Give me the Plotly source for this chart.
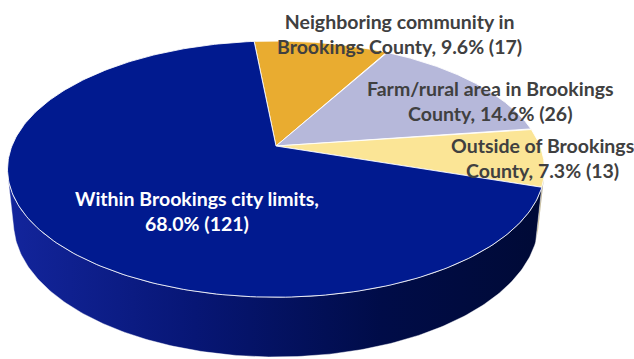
import numpy as np
import plotly.graph_objects as go

# Survey responses: where respondents live
categories = [
    "Neighboring community in Brookings County",
    "Farm/rural area in Brookings County",
    "Outside of Brookings County",
    "Within Brookings city limits",
]
counts = [17, 26, 13, 121]
percents = [9.6, 14.6, 7.3, 68.0]

# ---- styling -------------------------------------------------------------
top_colors = ["#E9AC30", "#B6B8DA", "#FBE596", "#011A8F"]
side_scales = [
    [[0, "#B07E1C"], [1, "#6E4E10"]],
    [[0, "#8A8CB0"], [1, "#55576F"]],
    [[0, "#BFA862"], [1, "#7A6A38"]],
    [[0, "#13259C"], [0.35, "#071675"], [0.7, "#000C48"], [1, "#000A36"]],
]
label_colors = ["#404040", "#404040", "#404040", "#FFFFFF"]
wrap_after = [3, 4, 3, 4]          # words on the first label line
label_pos = [(399, 34), (490, 101), (542, 158), (197, 211)]  # pixel centres
FONT = "Lato"
FONT_SIZE = 19.5

W, H = 634, 359
ELEV = np.radians(28.0)   # camera elevation
DIST = 4.9                # camera distance (pie radius = 1)
THICK = 0.23              # pie thickness
START = -5.6              # angle of first slice, clockwise from the far side
SCALE = 1294.0            # pixels per projected unit
CX, CY = 276.0, 146.0     # pixel position of the pie centre


def project(theta_deg, r=1.0, z=0.0):
    t = np.radians(theta_deg)
    X, Y, Z = r * np.sin(t), r * np.cos(t), z
    depth = DIST + Y * np.cos(ELEV) - Z * np.sin(ELEV)
    sx = X / depth
    sy = (Y * np.sin(ELEV) + Z * np.cos(ELEV)) / depth
    return sx, sy


# slice angles from the counts
total = sum(counts)
sweeps = [360.0 * c / total for c in counts]
bounds = np.concatenate([[START], START + np.cumsum(sweeps)])

# range of the rim that faces the camera
lim = np.degrees(np.arccos(-1.0 / (DIST * np.cos(ELEV))))
vis_lo, vis_hi = lim, 360.0 - lim

fig = go.Figure()

# side walls (front rim)
for i in range(len(counts)):
    a, b = bounds[i], bounds[i + 1]
    for shift in (0.0, 360.0, -360.0):
        lo = max(a + shift, vis_lo)
        hi = min(b + shift, vis_hi)
        if hi <= lo:
            continue
        th = np.linspace(lo, hi, 200)
        tx, ty = project(th, 1.0, 0.0)
        bx, by = project(th[::-1], 1.0, -THICK)
        fig.add_trace(go.Scatter(
            x=np.concatenate([tx, bx, tx[:1]]),
            y=np.concatenate([ty, by, ty[:1]]),
            mode="lines", fill="toself",
            fillgradient=dict(type="horizontal", colorscale=side_scales[i]),
            line=dict(color="rgba(255,255,255,0.55)", width=0.8),
            hoverinfo="skip", showlegend=False,
        ))

# top faces
for i in range(len(counts)):
    th = np.linspace(bounds[i], bounds[i + 1], 240)
    ax, ay = project(th, 1.0, 0.0)
    cx0, cy0 = project(0.0, 0.0, 0.0)
    fig.add_trace(go.Scatter(
        x=np.concatenate([[cx0], ax, [cx0]]),
        y=np.concatenate([[cy0], ay, [cy0]]),
        mode="lines", fill="toself", fillcolor=top_colors[i],
        line=dict(color="rgba(255,255,255,0.85)", width=1),
        name=categories[i], hoverinfo="name", showlegend=False,
    ))

# data labels
for i, name in enumerate(categories):
    text = f"{name}, {percents[i]:.1f}% ({counts[i]})"
    words = text.split(" ")
    k = wrap_after[i]
    text = " ".join(words[:k]) + "<br>" + " ".join(words[k:])
    px, py = label_pos[i]
    fig.add_annotation(
        x=px / W, y=1 - py / H, xref="paper", yref="paper",
        text=f"<b>{text}</b>", showarrow=False,
        xanchor="center", yanchor="middle", align="center",
        font=dict(family=FONT, size=FONT_SIZE, color=label_colors[i]),
    )

fig.update_layout(
    width=W, height=H,
    margin=dict(l=0, r=0, t=0, b=0),
    paper_bgcolor="white", plot_bgcolor="white",
    xaxis=dict(range=[-CX / SCALE, (W - CX) / SCALE], visible=False,
               fixedrange=True),
    yaxis=dict(range=[(CY - H) / SCALE, CY / SCALE], visible=False,
               fixedrange=True),
)

fig.write_html("out.html")
